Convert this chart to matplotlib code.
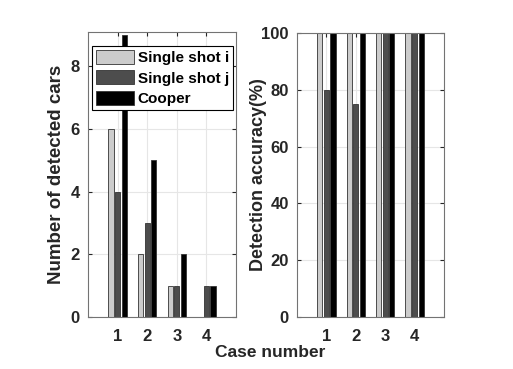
import numpy as np
import matplotlib.pyplot as plt

plt.rcParams['font.family'] = ['Liberation Sans', 'DejaVu Sans']
plt.rcParams['font.weight'] = 'bold'

cases = [1, 2, 3, 4]
series = ["Single shot i", "Single shot j", "Cooper"]
cars_i = [6, 2, 1, 0]
cars_j = [4, 3, 1, 1]
cars_c = [9, 5, 2, 1]
acc_i = [100, 100, 100, 100]
acc_j = [80, 75, 100, 100]
acc_c = [100, 100, 100, 100]

colors = [(0.8, 0.8, 0.8), (0.3, 0.3, 0.3), (0.0, 0.0, 0.0)]
offsets = [-0.222, 0.0, 0.222]
bw = 0.178

fig = plt.figure(figsize=(5.13, 3.69), dpi=100)
ax1 = fig.add_axes([88/513, 1-317/369, 148/513, 285/369])
ax2 = fig.add_axes([297/513, 1-317/369, 147/513, 284/369])

def style(ax):
    ax.set_xlim(0, 5)
    ax.set_xticks(cases)
    ax.grid(True, color=(0.9, 0.9, 0.9), linewidth=0.8)
    ax.set_axisbelow(True)
    ax.tick_params(direction='in', top=True, right=True, length=3,
                   labelsize=12, color=(0.15, 0.15, 0.15), pad=6)
    ax.tick_params(axis='x', pad=8.5)
    for s in ax.spines.values():
        s.set_color((0.45, 0.45, 0.45))
        s.set_linewidth(0.8)
    for lab in ax.get_xticklabels() + ax.get_yticklabels():
        lab.set_fontweight('bold')
        lab.set_color((0.15, 0.15, 0.15))

x = np.array(cases)
for vals, c, o, name in zip([cars_i, cars_j, cars_c], colors, offsets, series):
    ax1.bar(x + o, vals, bw, color=c, edgecolor=(0.2, 0.2, 0.2), linewidth=0.6, label=name)
for vals, c, o in zip([acc_i, acc_j, acc_c], colors, offsets):
    ax2.bar(x + o, vals, bw, color=c, edgecolor=(0.2, 0.2, 0.2), linewidth=0.6)

ax1.set_ylim(0, 9.1)
ax1.set_yticks([0, 2, 4, 6, 8])
ax2.set_ylim(0, 100)
ax2.set_yticks([0, 20, 40, 60, 80, 100])
style(ax1)
style(ax2)

ax1.set_ylabel("Number of detected cars", fontsize=13.5, fontweight='bold', color=(0.15, 0.15, 0.15))
ax2.set_ylabel("Detection accuracy(%)", fontsize=13, fontweight='bold', color=(0.15, 0.15, 0.15), labelpad=-4)
fig.text(270/513, 1-357/369, "Case number", ha='center', va='baseline',
         fontsize=12.5, fontweight='bold', color=(0.15, 0.15, 0.15))

leg = ax1.legend(loc='upper left', bbox_to_anchor=(0.03, 0.95), fontsize=11,
                 handlelength=2.5, handleheight=1.0, handletextpad=0.2,
                 labelspacing=0.35, borderpad=0.25, borderaxespad=0,
                 fancybox=False, framealpha=1, edgecolor='black')
leg.get_frame().set_linewidth(0.8)
for t in leg.get_texts():
    t.set_fontweight('bold')

fig.savefig("out.png", dpi=100)
